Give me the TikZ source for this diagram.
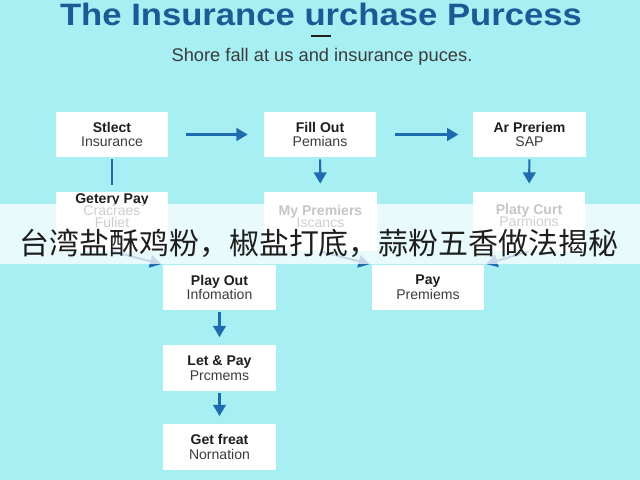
\documentclass[tikz,border=0pt]{standalone}
\usepackage{fontspec}
\setmainfont{Liberation Sans}
\newfontfamily\titlefont[FakeStretch=1.12]{Liberation Sans}
\newfontfamily\cjkfont{Noto Sans CJK SC}
\usetikzlibrary{arrows.meta}
\definecolor{bgcyan}{HTML}{A7EFF2}
\definecolor{titleblue}{HTML}{1C5A96}
\definecolor{flowblue}{HTML}{1E6BB0}
\definecolor{headgray}{HTML}{1E1E1E}
\definecolor{subgray}{HTML}{3C3C3C}
\newcommand{\boxtext}[2]{{\bfseries\color{headgray}#1}\\#2}
\newcommand{\midtext}[3]{\parbox[c][1.48cm][t]{2.8cm}{\centering\setlength{\lineskiplimit}{-5pt}\rule{0pt}{#1}{\bfseries\color{headgray}#2}\\#3}}

\begin{document}
\begin{tikzpicture}[x=0.025cm,y=-0.025cm,
    box/.style={fill=white,minimum width=2.8cm,minimum height=1.13cm,align=center,text=subgray,font=\fontsize{10}{10.5}\selectfont},
    midbox/.style={fill=white,text=subgray,font=\fontsize{10}{8.5}\selectfont},
    flow/.style={draw=flowblue,line width=1.5pt,-{Triangle[length=8pt,width=9pt]}},
    link/.style={draw=flowblue,line width=1.6pt}]
            \tikzstyle{every node}+=[inner sep=0pt]
            \fill [bgcyan] (0,0) rectangle (640,480);
            \useasboundingbox (0,0) rectangle (640,480);
            \node [font=\titlefont\bfseries\fontsize{22}{24}\selectfont,text=titleblue] (title) at (321,14.5) {The Insurance urchase Purcess};
            \draw [headgray,line width=1.1pt] (311,36) -- (331,36);
            \node [font=\fontsize{13}{15}\selectfont,text=subgray] (subtitle) at (322,57) {Shore fall at us and insurance puces.};
            \node [box] (select) at (112,134.5) {\boxtext{Stlect}{Insurance}};
            \node [box] (fillout) at (320,134.5) {\boxtext{Fill Out}{Pemians}};
            \node [box] (arpreriem) at (529.5,134.5) {\boxtext{Ar Preriem}{SAP}};
            \node [midbox] (getery) at (112,221.5) {\midtext{8.5pt}{Getery Pay}{Cracraes\\Fuliet}};
            \node [midbox] (mypremiers) at (320.5,221.5) {\midtext{16.5pt}{My Premiers}{Iscancs}};
            \node [midbox] (platy) at (529,221.5) {\midtext{16pt}{Platy Curt}{Parmions}};
            \node [box] (playout) at (219.5,287.5) {\boxtext{Play Out}{Infomation}};
            \node [box] (pay) at (428,287.5) {\boxtext{Pay}{Premiems}};
            \node [box] (letpay) at (219.5,368) {\boxtext{Let \& Pay}{Prcmems}};
            \node [box] (getfreat) at (219.5,447) {\boxtext{Get freat}{Nornation}};
            \draw [flow,shorten <=0.45cm,shorten >=0.4cm] (select) -- (fillout);
            \draw [flow,shorten <=0.47cm,shorten >=0.37cm] (fillout) -- (arpreriem);
            \draw [link,shorten <=0.05cm,shorten >=0.17cm] (select) -- (getery);
            \draw [flow,shorten <=0.05cm,shorten >=0.2cm] (fillout) -- (mypremiers);
            \draw [flow,shorten <=0.05cm,shorten >=0.2cm] (arpreriem) -- (platy);
            \draw [flow,shorten >=0.05cm] (getery.south) -- (playout.north west);
            \draw [flow,shorten >=0.05cm] (mypremiers.south) -- (pay.north west);
            \draw [flow,shorten >=0.05cm] (platy.south) -- (pay.north east);
            \draw [flow,shorten <=0.05cm,shorten >=0.2cm] (playout) -- (letpay);
            \draw [flow,shorten <=0.05cm,shorten >=0.2cm] (letpay) -- (getfreat);
            \fill [white,opacity=0.75] (0,204) rectangle (640,264);
            \node [font=\cjkfont\fontsize{21.3}{24}\selectfont,text=headgray] (slogan) at (319,243) {台湾盐酥鸡粉，椒盐打底，蒜粉五香做法揭秘};
\end{tikzpicture}
\end{document}
